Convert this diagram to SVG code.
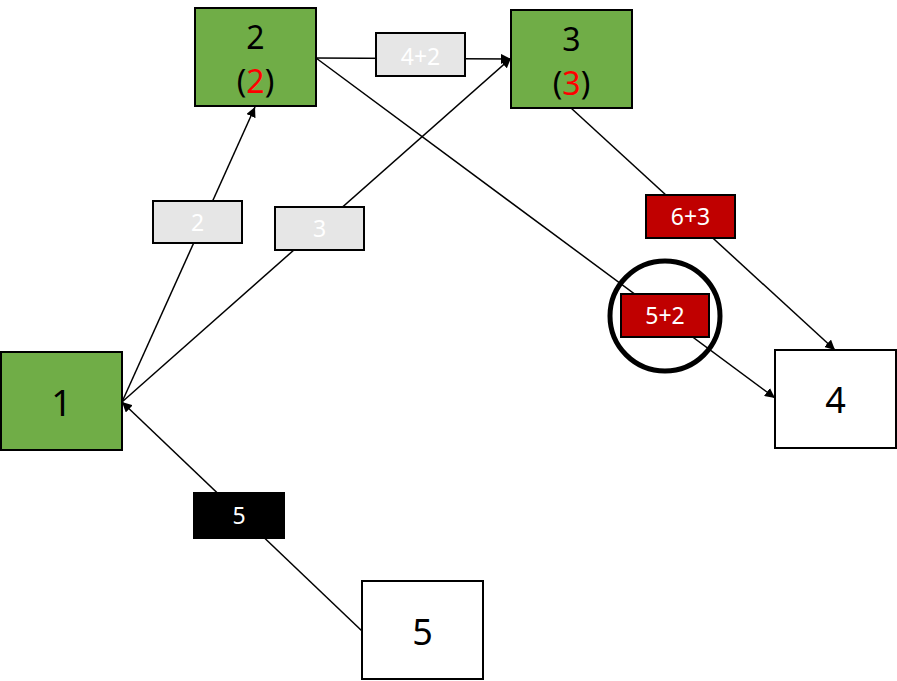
<svg xmlns="http://www.w3.org/2000/svg" width="897" height="681" viewBox="0 0 897 681">
<defs>
<marker id="ah" viewBox="0 0 10 10" refX="10" refY="5" markerWidth="10" markerHeight="10" markerUnits="userSpaceOnUse" orient="auto">
<path d="M0,0 L10,5 L0,10 z" fill="#000"/>
</marker>
<style>
.g{fill:#70ad47;stroke:#000;stroke-width:2}
.w{fill:#fff;stroke:#000;stroke-width:2}
.lg{fill:#e6e6e6;stroke:#000;stroke-width:2}
.lr{fill:#c00000;stroke:#000;stroke-width:2}
.lb{fill:#000;stroke:#000;stroke-width:2}
.nt{font-family:"Noto Sans","Open Sans",sans-serif;font-size:36px;fill:#000;text-anchor:middle}
.nt2{font-family:"Noto Sans","Open Sans",sans-serif;font-size:32px;fill:#000;text-anchor:middle}
.lt{font-family:"Noto Sans","Open Sans",sans-serif;font-size:23px;fill:#fff;text-anchor:middle}
.c{stroke:#000;stroke-width:1.5;fill:none;marker-end:url(#ah)}
.red{fill:#ff0000}
</style>
</defs>
<rect width="897" height="681" fill="#fff"/>
<g id="connectors">
<line class="c" x1="122" y1="402" x2="255" y2="107"/>
<line class="c" x1="122" y1="402" x2="511" y2="58"/>
<line class="c" x1="362" y1="631" x2="122" y2="402"/>
<line class="c" x1="316" y1="58" x2="511" y2="59"/>
<line class="c" x1="316" y1="58" x2="775" y2="398"/>
<line class="c" x1="571" y1="108" x2="835" y2="350"/>
</g>
<g id="node1"><rect class="g" x="1" y="352" width="121" height="98"/><text class="nt" x="61.5" y="416">1</text></g>
<g id="node2"><rect class="g" x="195" y="8" width="121" height="98"/><text class="nt2" x="255.5" y="49">2</text><text class="nt2" x="255.5" y="93">(<tspan class="red">2</tspan>)</text></g>
<g id="node3"><rect class="g" x="511" y="10" width="121" height="98"/><text class="nt2" x="571.5" y="51">3</text><text class="nt2" x="571.5" y="95">(<tspan class="red">3</tspan>)</text></g>
<g id="node4"><rect class="w" x="775" y="350" width="121" height="98"/><text class="nt" x="835.5" y="413">4</text></g>
<g id="node5"><rect class="w" x="362" y="581" width="121" height="98"/><text class="nt" x="422.5" y="645">5</text></g>
<g id="labels">
<g id="l42"><rect class="lg" x="376" y="33" width="89" height="43"/><text class="lt" x="420.5" y="65">4+2</text></g>
<g id="l2"><rect class="lg" x="153" y="201" width="89" height="42"/><text class="lt" x="197.5" y="231">2</text></g>
<g id="l3"><rect class="lg" x="275" y="207" width="89" height="43"/><text class="lt" x="319.5" y="237">3</text></g>
<g id="l63"><rect class="lr" x="646" y="195" width="89" height="43"/><text class="lt" x="690.5" y="225">6+3</text></g>
<g id="l52"><rect class="lr" x="621" y="294" width="88" height="43"/><text class="lt" x="665" y="324">5+2</text></g>
<g id="l5"><rect class="lb" x="194" y="493" width="90" height="45"/><text class="lt" x="239" y="524">5</text></g>
</g>
<circle id="highlight" cx="665" cy="316" r="55" fill="none" stroke="#000" stroke-width="5"/>
</svg>
